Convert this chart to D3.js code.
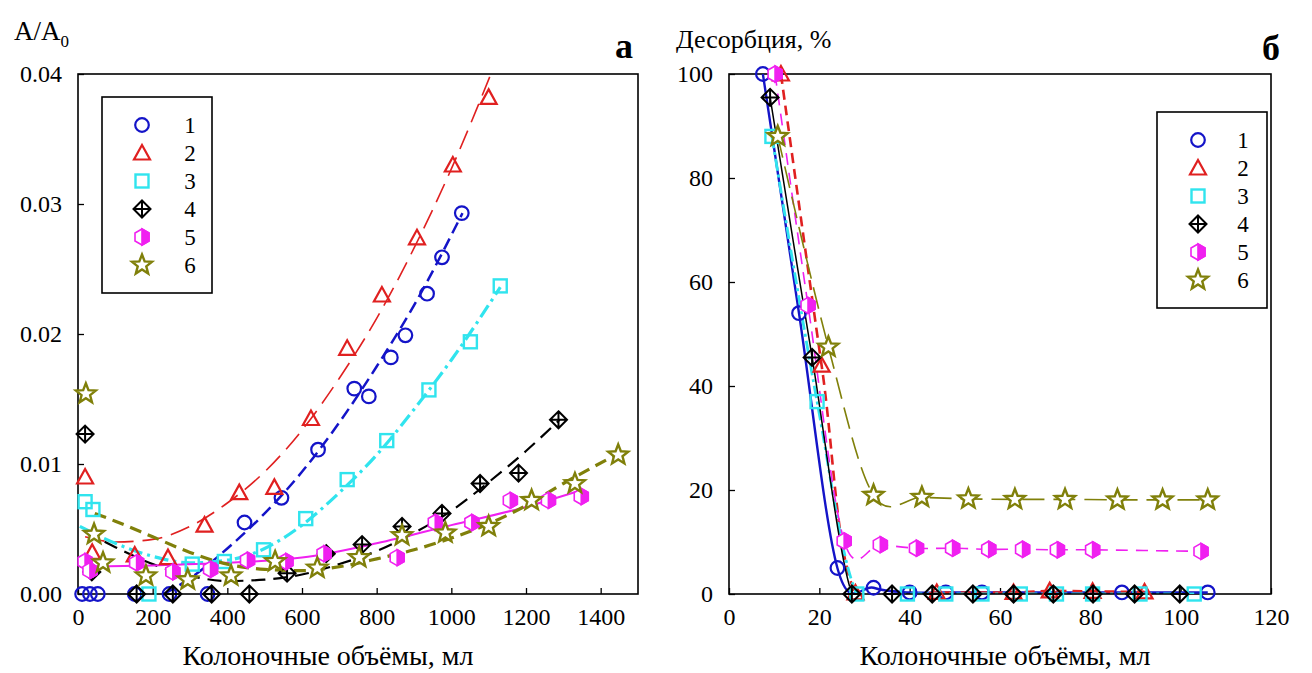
<!DOCTYPE html>
<html><head><meta charset="utf-8">
<script src="https://cdn.jsdelivr.net/npm/d3@7"></script>
<style>
body{margin:0;background:#fff;}
svg{display:block;}
text{font-family:"Liberation Serif","Times New Roman",serif;}
</style></head>
<body><svg id="c" width="1312" height="673"></svg>
<script>
// ---------- DATA ----------
const seriesLabels = ["1","2","3","4","5","6"];
// Panel a: measured points [volume, A/A0]
const aPts1 = [[11,0],[32,0],[53,0],[152,0],[245,0],[347,0],[446,0.0055],[545,0.0074],[643,0.0111],[740,0.0158],[779,0.0152],[838,0.0182],[877,0.0199],[935,0.0231],[975,0.0259],[1028,0.0293]];
const aPts2 = [[19,0.0090],[38,0.0032],[152,0.0030],[241,0.0028],[339,0.0053],[432,0.0078],[526,0.0082],[624,0.0135],[721,0.0189],[814,0.0230],[908,0.0274],[1004,0.0330],[1100,0.0382]];
const aPts3 = [[19,0.0071],[40,0.0065],[190,0.0000],[306,0.0023],[392,0.0025],[497,0.0034],[610,0.0058],[721,0.0088],[827,0.0118],[940,0.0157],[1051,0.0194],[1131,0.0237]];
const aPts4 = [[19,0.0123],[37,0.0017],[157,0],[254,0],[358,0],[459,0],[560,0.0016],[665,0.0031],[761,0.0038],[868,0.0052],[975,0.0062],[1077,0.0085],[1180,0.0093],[1287,0.0134]];
const aPts5 = [[19,0.0025],[32,0.0018],[157,0.0024],[254,0.0017],[355,0.0019],[454,0.0026],[557,0.0025],[659,0.0031],[855,0.0028],[957,0.0055],[1055,0.0055],[1158,0.0072],[1260,0.0072],[1348,0.0075]];
const aPts6 = [[21,0.0154],[43,0.0046],[67,0.0024],[182,0.0014],[294,0.0011],[410,0.0014],[528,0.0025],[641,0.0020],[753,0.0028],[868,0.0045],[984,0.0047],[1100,0.0052],[1215,0.0072],[1331,0.0085],[1447,0.0107]];
// Panel a: trend curves
const aFit1 = [[230,0],[300,0.0012],[400,0.0035],[500,0.0062],[600,0.0094],[700,0.0132],[800,0.0175],[900,0.0222],[1030,0.0293]];
const aFit2 = [[19,0.0044],[100,0.0040],[200,0.0042],[300,0.0052],[400,0.0070],[500,0.0094],[600,0.0126],[700,0.0166],[800,0.0212],[900,0.0266],[1000,0.0327],[1106,0.0400]];
const aFit3 = [[5,0.0052],[100,0.0039],[200,0.0029],[300,0.0024],[400,0.0026],[500,0.0035],[600,0.0053],[700,0.0078],[800,0.0107],[900,0.0142],[1000,0.0180],[1131,0.0236]];
const aFit4 = [[19,0.0048],[100,0.0036],[200,0.0023],[300,0.0014],[400,0.0010],[500,0.0011],[600,0.0015],[700,0.0023],[800,0.0033],[900,0.0047],[1000,0.0064],[1100,0.0086],[1200,0.0110],[1290,0.0134]];
const aFit5 = [[5,0.0021],[200,0.0022],[400,0.0024],[600,0.0028],[800,0.0039],[1000,0.0053],[1200,0.0067],[1350,0.0080]];
const aFit6 = [[45,0.0062],[100,0.0056],[200,0.0044],[300,0.0032],[400,0.0023],[500,0.0019],[600,0.0018],[700,0.0021],[800,0.0027],[900,0.0034],[1000,0.0043],[1100,0.0054],[1200,0.0068],[1300,0.0085],[1447,0.0108]];
// Panel б: desorption % vs volume
const bPts1 = [[7.5,100],[15.5,54],[24,5],[32,1.2],[40,0.3],[48,0.3],[56,0.3],[87,0.3],[106,0.3]];
const bPts2 = [[11.5,100],[20.5,44],[28,0.2],[46,0.3],[63,0.3],[71,0.6],[80.5,0.5],[92,0.4]];
const bPts3 = [[9.5,88],[19.5,37],[28.3,0],[39.5,0],[48,0],[56,0],[64.5,0],[72.5,0],[80.5,0],[91,0],[103,0]];
const bPts4 = [[9.1,95.5],[18.4,45.5],[27.2,0],[36.1,0],[45,0],[54,0],[63,0],[71.8,0],[80.6,0],[89.8,0],[99.8,0]];
const bPts5 = [[10.2,100],[17.5,55.5],[25.5,10.2],[33.5,9.5],[41.5,8.8],[49.5,8.8],[57.5,8.6],[65,8.6],[72.7,8.5],[80.5,8.5],[104.5,8.2]];
const bPts6 = [[10.8,88],[22,47.5],[32,19],[42.7,18.6],[53,18.3],[63.3,18.2],[74.4,18.2],[86,18.1],[96,18.1],[106,18.1]];
// Ticks
const aXTicks = [0,200,400,600,800,1000,1200,1400];
const aYTicks = [0,0.01,0.02,0.03,0.04];
const bXTicks = [0,20,40,60,80,100,120];
const bYTicks = [0,20,40,60,80,100];

// ---------- STYLES ----------
const colors = ["#1414c8","#e02020","#30e4ee","#000000","#f020f0","#80800a"];
const markers = ["circle","triangle","square","diamondCross","hexHalf","star"];
const aLine = [
  {w:2.5,dash:"12,6"},{w:1.6,dash:"20,9"},{w:3.2,dash:"14,5,3,5"},
  {w:2.2,dash:"14,8"},{w:2,dash:null},{w:3.2,dash:"12,7"}];
const bLine = [
  {w:2.4,dash:null},{w:2.6,dash:"10,6"},{w:2.8,dash:"12,4,3,4"},
  {w:1.5,dash:null},{w:1.6,dash:"12,8"},{w:1.6,dash:"22,9"}];

const svg = d3.select("#c");

function drawMarker(g, type, color){
  if(type==="circle"){
    g.append("circle").attr("r",6.8).attr("fill","none").attr("stroke",color).attr("stroke-width",2.2);
  } else if(type==="triangle"){
    g.append("path").attr("d","M0,-8L8,6.5L-8,6.5Z").attr("fill","none").attr("stroke",color).attr("stroke-width",2.2);
  } else if(type==="square"){
    g.append("rect").attr("x",-6.5).attr("y",-6.5).attr("width",13).attr("height",13).attr("fill","none").attr("stroke",color).attr("stroke-width",2.4);
  } else if(type==="diamondCross"){
    g.append("path").attr("d","M0,-8.5L8.5,0L0,8.5L-8.5,0Z M0,-8.5V8.5 M-8.5,0H8.5").attr("fill","none").attr("stroke",color).attr("stroke-width",2);
  } else if(type==="hexHalf"){
    g.append("path").attr("d","M0,-8L7,-4L7,4L0,8L-7,4L-7,-4Z").attr("fill","#fff").attr("stroke",color).attr("stroke-width",1.6);
    g.append("path").attr("d","M0,-8L7,-4L7,4L0,8Z").attr("fill",color).attr("stroke",color).attr("stroke-width",1.6);
  } else if(type==="star"){
    const pts=[];
    for(let i=0;i<10;i++){
      const r = i%2===0?10.5:4.5;
      const a = -Math.PI/2 + i*Math.PI/5;
      pts.push([r*Math.cos(a), r*Math.sin(a)]);
    }
    g.append("path").attr("d","M"+pts.map(p=>p[0].toFixed(2)+","+p[1].toFixed(2)).join("L")+"Z")
      .attr("fill","#fff").attr("stroke",color).attr("stroke-width",2.4).attr("stroke-linejoin","miter");
  }
}

function panel(opts){
  const {x,y,xTicks,yTicks,yFmt,fits,pts,lineStyles,curve,id,legend} = opts;
  const [x0,x1] = x.range(), [y0,y1] = y.range();
  svg.append("clipPath").attr("id",id).append("rect")
    .attr("x",x0).attr("y",y1).attr("width",x1-x0).attr("height",y0-y1);
  const gx = svg.append("g").attr("transform",`translate(0,${y0})`)
    .call(d3.axisBottom(x).tickValues(xTicks).tickSizeInner(-6).tickSizeOuter(0).tickPadding(14).tickFormat(d3.format("d")));
  const gy = svg.append("g").attr("transform",`translate(${x0},0)`)
    .call(d3.axisLeft(y).tickValues(yTicks).tickSizeInner(-6).tickSizeOuter(0).tickPadding(16).tickFormat(yFmt));
  [gx,gy].forEach(g=>{
    g.select(".domain").remove();
    g.selectAll(".tick line").attr("stroke","#000").attr("stroke-width",1.3);
    g.selectAll("text").attr("font-size",24).attr("fill","#000")
      .attr("font-family","'Liberation Serif','Times New Roman',serif");
  });
  // frame
  svg.append("rect").attr("x",x0).attr("y",y1).attr("width",x1-x0).attr("height",y0-y1)
    .attr("fill","none").attr("stroke","#000").attr("stroke-width",1.6);
  const plot = svg.append("g").attr("clip-path",`url(#${id})`);
  fits.forEach((d,i)=>{
    const ln = d3.line().x(p=>x(p[0])).y(p=>y(p[1])).curve(curve);
    plot.append("path").attr("d",ln(d)).attr("fill","none").attr("stroke",colors[i])
      .attr("stroke-width",lineStyles[i].w).attr("stroke-dasharray",lineStyles[i].dash);
  });
  const mk = svg.append("g");
  pts.forEach((d,i)=>{
    d.forEach(p=>{
      const g = mk.append("g").attr("transform",`translate(${x(p[0])},${y(p[1])})`);
      drawMarker(g, markers[i], colors[i]);
    });
  });
  // legend
  const L = legend;
  svg.append("rect").attr("x",L.x).attr("y",L.y).attr("width",L.w).attr("height",L.h)
    .attr("fill","#fff").attr("stroke","#000").attr("stroke-width",1.6);
  seriesLabels.forEach((s,i)=>{
    const yy = L.row0 + i*L.dy;
    const g = svg.append("g").attr("transform",`translate(${L.mx},${yy})`);
    drawMarker(g, markers[i], colors[i]);
    svg.append("text").attr("x",L.tx).attr("y",yy+8).attr("text-anchor","middle")
      .attr("font-size",23).text(s);
  });
}

const xA = d3.scaleLinear().domain([0,1500]).range([78,638]);
const yA = d3.scaleLinear().domain([0,0.04]).range([594,74]);
const xB = d3.scaleLinear().domain([0,120]).range([729,1271]);
const yB = d3.scaleLinear().domain([0,100]).range([594,74]);

panel({x:xA,y:yA,xTicks:aXTicks,yTicks:aYTicks,yFmt:d3.format(".2f"),
  fits:[aFit1,aFit2,aFit3,aFit4,aFit5,aFit6],
  pts:[aPts1,aPts2,aPts3,aPts4,aPts5,aPts6],
  lineStyles:aLine, curve:d3.curveMonotoneX, id:"clipA",
  legend:{x:102,y:97,w:110,h:196,mx:142,tx:190,row0:125,dy:28}});

panel({x:xB,y:yB,xTicks:bXTicks,yTicks:bYTicks,yFmt:d3.format("d"),
  fits:[bPts1,bPts2,bPts3,bPts4,bPts5,bPts6],
  pts:[bPts1,bPts2,bPts3,bPts4,bPts5,bPts6],
  lineStyles:bLine, curve:d3.curveCardinal.tension(0), id:"clipB",
  legend:{x:1157,y:112,w:110,h:196,mx:1198,tx:1243,row0:140,dy:28}});

// Titles
const tA = svg.append("text").attr("x",14).attr("y",40).attr("font-size",27);
tA.append("tspan").text("A/A");
tA.append("tspan").attr("font-size",17).attr("dy",7).text("0");
svg.append("text").attr("x",676).attr("y",48).attr("font-size",26).text("Десорбция, %");
svg.append("text").attr("x",624).attr("y",58).attr("text-anchor","middle")
  .attr("font-family","'Liberation Sans',Arial,sans-serif").attr("font-weight","bold").attr("font-size",36).text("а");
svg.append("text").attr("x",1271).attr("y",60).attr("text-anchor","middle")
  .attr("font-family","'Liberation Sans',Arial,sans-serif").attr("font-weight","bold").attr("font-size",36).text("б");
svg.append("text").attr("x",328).attr("y",665).attr("text-anchor","middle").attr("font-size",28).text("Колоночные объёмы, мл");
svg.append("text").attr("x",1005).attr("y",665).attr("text-anchor","middle").attr("font-size",28).text("Колоночные объёмы, мл");
</script></body></html>
